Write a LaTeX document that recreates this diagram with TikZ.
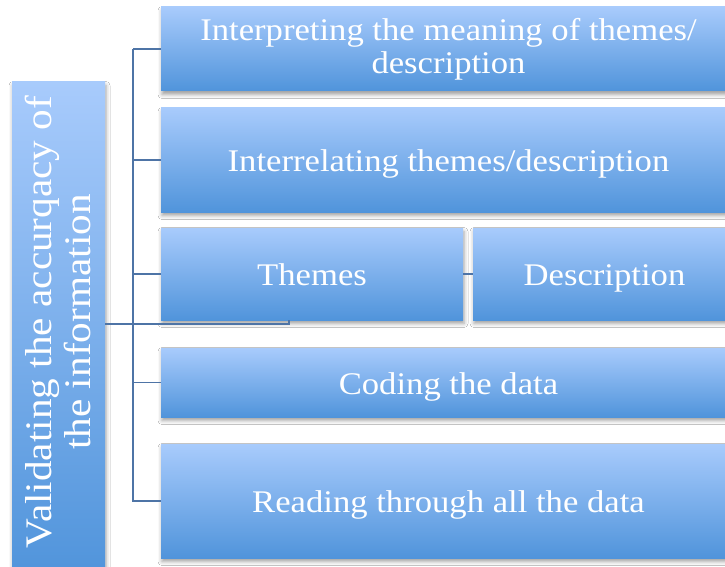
\documentclass[tikz,border=0pt]{standalone}
\usepackage{fontspec}
\setmainfont{Liberation Serif}[FakeStretch=1.1]
\usetikzlibrary{shadows.blur}
\definecolor{boxtop}{RGB}{168,203,252}
\definecolor{boxbot}{RGB}{80,148,219}
\definecolor{linec}{RGB}{78,116,166}
\tikzset{
  box/.style={shading=axis, top color=boxtop, bottom color=boxbot, draw=none,
    inner sep=0pt, outer sep=0pt, anchor=north west, text=white, align=center,
    font=\fontsize{31.5}{33}\selectfont,
    execute at begin node={\rule{0pt}{0.96em}},
    execute at end node={\rule[-0.2em]{0pt}{0.2em}},
    blur shadow={shadow xshift=1pt, shadow yshift=-3.5pt, shadow blur radius=4pt, shadow opacity=38}},
  conn/.style={draw=linec, line width=1.8pt},
}
\begin{document}
\begin{tikzpicture}[x=1pt,y=1pt]
\useasboundingbox (0,0) rectangle (725,-567);
\fill[white] (0,0) rectangle (725,-567);
% left box
\node[box, minimum width=93pt, minimum height=495pt] (L) at (12,-82) {};
\node[rotate=90, text=white, align=center, inner sep=0pt,
  font=\fontsize{37.5}{39}\selectfont] (Lt) at (58,-322) {Validating the accurqacy of\\the information};
% right boxes
\node[box, minimum width=575pt, minimum height=84pt,
  execute at begin node={\rule{0pt}{1.12em}}] (b1) at (161,-7) {Interpreting the meaning of themes/\\description};
\node[box, minimum width=575pt, minimum height=104pt] (b2) at (161,-108) {Interrelating themes/description};
\node[box, minimum width=302pt, minimum height=92pt] (th) at (161,-228) {Themes};
\node[box, minimum width=263pt, minimum height=92pt] (de) at (473,-228) {Description};
\node[box, minimum width=575pt, minimum height=69pt] (b4) at (161,-348) {Coding the data};
\node[box, minimum width=575pt, minimum height=114pt] (b5) at (161,-444) {Reading through all the data};
% connectors
\draw[conn] (b1.west) -- ++(-28,0) coordinate (t1);
\draw[conn] (t1) |- (b5.west);
\draw[conn] (b2.west) -- (b2.west -| t1);
\draw[conn] (th.west) -- (th.west -| t1);
\draw[conn] (b4.west) -- (b4.west -| t1);
\draw[conn] (th.east) -- (de.west);
\coordinate (j) at (289,-324);
\draw[conn] (L.east |- j) -- (j) -- (j |- th.south);
\end{tikzpicture}
\end{document}
